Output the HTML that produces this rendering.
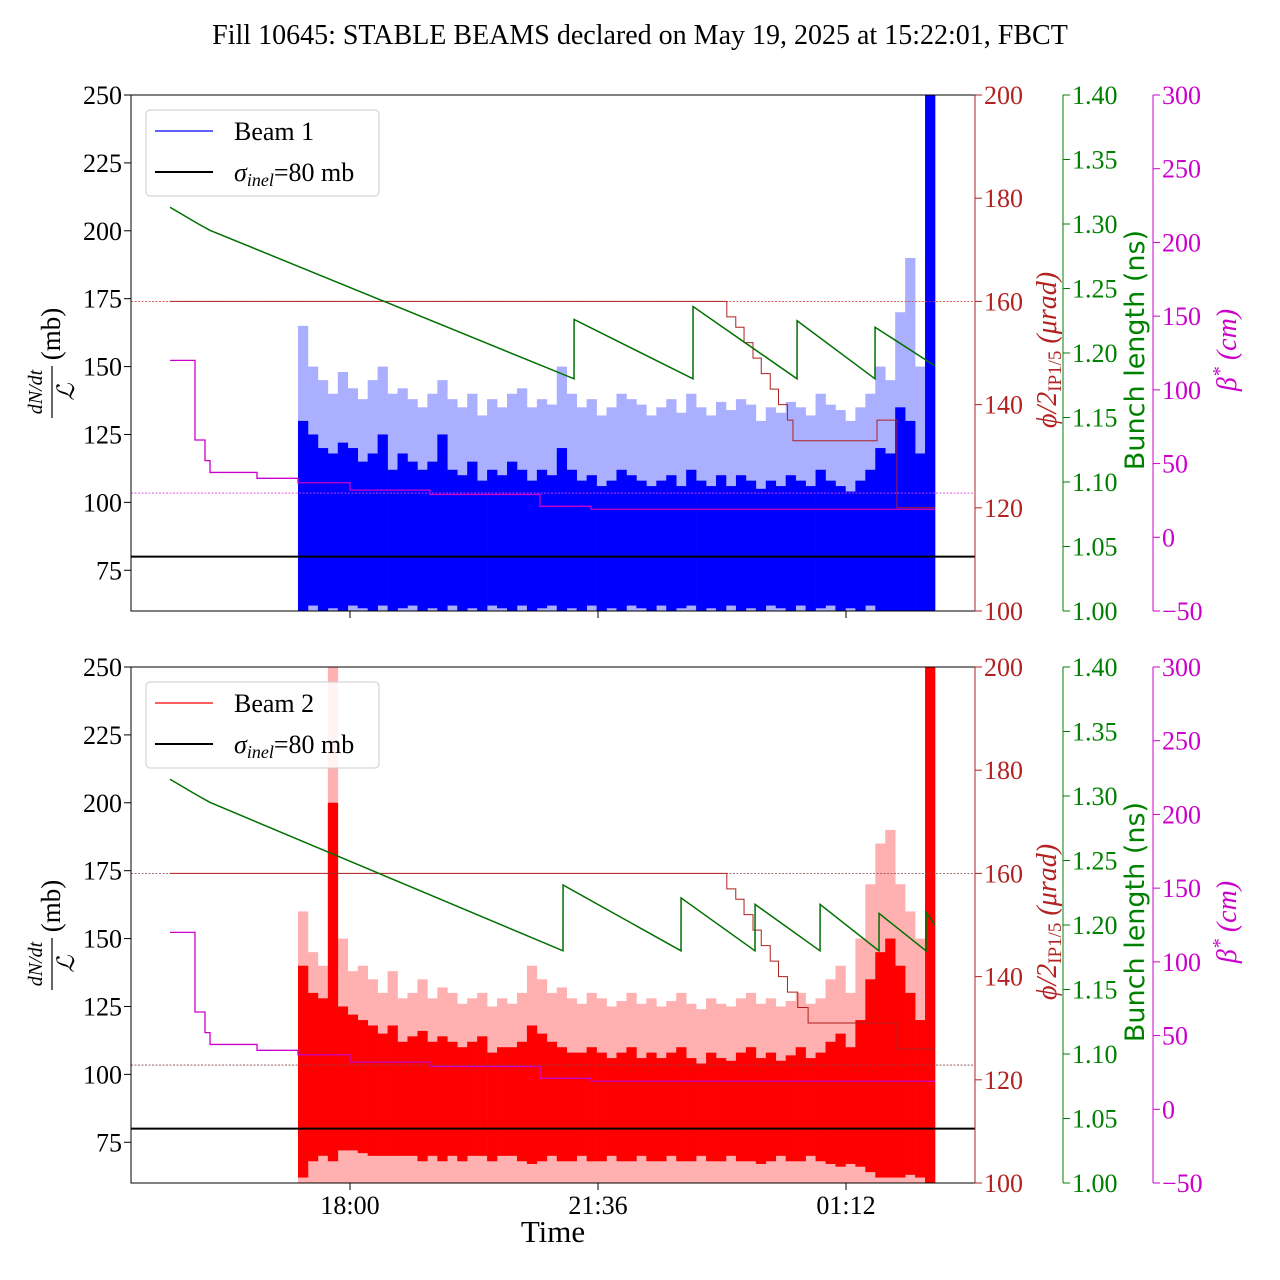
<!DOCTYPE html>
<html><head><meta charset="utf-8"><style>
html,body{margin:0;padding:0;background:#fff;}
svg{display:block;font-family:"Liberation Serif",serif;}
</style></head><body>
<svg id="chart" width="1280" height="1280" viewBox="0 0 1280 1280" xmlns="http://www.w3.org/2000/svg">
<text x="640" y="44" font-size="28" text-anchor="middle">Fill 10645: STABLE BEAMS declared on May 19, 2025 at 15:22:01, FBCT</text>
<g id="top"></g><g id="bot"></g>
<text x="553" y="1242" font-size="31" text-anchor="middle">Time</text>
</svg>
<script>
// ---- data (time in hours relative to 18:00) ----
const xTickLabels = ["18:00","21:36","01:12"];
const xTickTimes = [0, 3.6, 7.2];
const beamStart = -0.755, beamEnd = 8.492;
const b1LightHi = [165,150,145,140,148,142,138,145,150,140,142,138,135,140,145,138,135,140,132,138,135,140,142,135,138,136,150,140,135,138,132,135,140,138,136,132,135,138,133,140,135,132,137,134,138,136,130,135,133,137,135,132,140,136,134,130,135,140,150,145,170,190,150,250];
const b1DarkHi = [130,125,120,118,122,120,115,118,125,112,118,115,112,115,125,112,110,115,108,112,110,115,112,108,112,110,120,112,108,110,106,108,112,110,108,106,108,110,106,112,108,106,110,106,110,108,105,108,106,110,108,106,112,108,106,104,108,112,120,118,135,130,118,250];
const b1DarkLo = [60,62,60,61,60,62,61,60,62,60,61,62,60,61,60,62,60,61,60,62,61,60,62,60,61,62,60,61,60,62,60,61,60,62,61,60,62,60,61,62,60,61,60,62,60,61,60,62,61,60,62,60,61,62,60,61,60,62,60,60,60,60,60,60];
const b2LightHi = [160,145,140,250,150,138,140,135,130,138,128,130,135,128,132,130,126,128,130,125,128,126,130,140,135,130,132,128,126,130,128,125,127,130,126,128,125,127,130,126,124,128,126,125,128,130,126,128,125,127,130,126,128,135,140,130,150,170,185,190,170,160,150,250];
const b2DarkHi = [140,130,128,200,125,122,120,118,115,118,112,114,116,112,114,112,110,112,114,108,110,110,112,118,115,112,110,108,108,110,108,106,108,110,106,108,106,108,110,106,104,108,106,105,108,110,106,108,105,107,110,106,108,112,115,110,120,135,145,150,140,130,120,250];
const b2DarkLo = [62,68,70,68,72,72,71,70,70,70,70,70,68,70,68,70,68,70,70,68,70,70,68,67,68,70,68,68,70,68,68,70,68,68,70,68,68,70,68,68,70,68,68,70,68,68,67,68,70,68,68,70,68,67,66,67,66,64,62,62,62,63,62,60];
const bl1Times = [-2.613,-2.2,-2.03,3.252,3.253,4.979,4.98,6.489,6.49,7.621,7.622,8.492];
const bl1Vals = [1.313,1.300,1.295,1.18,1.226,1.18,1.236,1.18,1.225,1.18,1.22,1.19];
const bl2Times = [-2.613,-2.2,-2.03,3.092,3.093,4.805,4.806,5.879,5.88,6.823,6.824,7.679,7.68,8.361,8.362,8.492];
const bl2Vals = [1.313,1.300,1.295,1.18,1.231,1.18,1.221,1.18,1.216,1.18,1.216,1.18,1.209,1.18,1.21,1.20];
const phi1Times = [-2.613,5.47,5.6,5.72,5.85,5.97,6.1,6.22,6.35,6.43,7.65,7.94,8.492];
const phi1Vals = [160,157,155,152,149,146,143,140,137,133,137,120,120];
const phi2Times = [-2.613,5.47,5.6,5.72,5.85,5.97,6.1,6.22,6.35,6.5,6.65,7.65,7.94,8.492];
const phi2Vals = [160,157,155,152,149,146,143,140,137,134,131,131,126,126];
const betaTimes = [-2.613,-2.323,-2.25,-2.105,-2.032,-1.35,-0.755,0,1.16,2.758,3.5,8.492];
const betaVals = [120,120,66,52,44,40,37,32,29,21,19,19];
const leftTicks = [75,100,125,150,175,200,225,250];
const redTicks = [100,120,140,160,180,200];
const greenTicks = [1.00,1.05,1.10,1.15,1.20,1.25,1.30,1.35,1.40];
const magTicks = [-50,0,50,100,150,200,250,300];

const NS="http://www.w3.org/2000/svg";
function mk(parent,tag,attrs,text){const e=document.createElementNS(NS,tag);for(const k in attrs)e.setAttribute(k,attrs[k]);if(text!==undefined)e.textContent=text;parent.appendChild(e);return e;}
const X0=131,X1=975;
const xOf=t=>350+t*(248/3.6);
const FS=26;

function panel(g,top,beam,lightHi,darkHi,darkLo,blT,blV,phT,phV,light,dark,label){
  const bot=top+516;
  const yL=v=>bot-(v-60)*516/190;
  const yR=v=>bot-(v-100)*516/100;
  const yG=v=>bot-(v-1.0)*516/0.4;
  const yM=v=>bot-(v+50)*516/350;
  const clip=mk(g,'clipPath',{id:'clip'+beam});
  mk(clip,'rect',{x:X0,y:top,width:X1-X0,height:516});
  const plot=mk(g,'g',{'clip-path':'url(#clip'+beam+')'});
  
  
  const n=lightHi.length, dt=(beamEnd-beamStart)/n;
  for(let i=0;i<n;i++){
    const xa=xOf(beamStart+i*dt), w=xOf(beamStart+(i+1)*dt)-xa;
    const r=mk(plot,'rect',{x:xa,y:yL(lightHi[i]),width:w+0.3,height:yL(60)-yL(lightHi[i]),fill:light});
    
    
  }
  for(let i=0;i<n;i++){
    const xa=xOf(beamStart+i*dt), w=xOf(beamStart+(i+1)*dt)-xa;
    const r=mk(plot,'rect',{x:xa,y:yL(darkHi[i]),width:w+0.3,height:yL(darkLo[i])-yL(darkHi[i]),fill:dark});
    
    
  }
  mk(plot,'line',{x1:X0,x2:X1,y1:yR(160),y2:yR(160),stroke:beam==1?'#d03030':'#884444','stroke-width':0.8,'stroke-dasharray':'2,1.5'});
  mk(plot,'line',{x1:X0,x2:X1,y1:yM(30),y2:yM(30),stroke:beam==1?'#e040e0':'#884444','stroke-width':0.8,'stroke-dasharray':'2,1.5'});
  const s=mk(plot,'line',{x1:X0,x2:X1,y1:yL(80),y2:yL(80),stroke:'#000','stroke-width':2});
  
  
  function stepPath(T,V,yf){let d='M'+xOf(T[0])+','+yf(V[0]);for(let i=1;i<T.length;i++){d+=' H'+xOf(T[i])+' V'+yf(V[i]);}return d;}
  const ph=mk(plot,'path',{d:stepPath(phT,phV,yR),fill:'none',stroke:'#b02020','stroke-width':1});
  
  
  let d='';blT.forEach((t,i)=>{d+=(i?'L':'M')+xOf(t)+','+yG(blV[i]);});
  const gl=mk(plot,'path',{d:d,fill:'none',stroke:'#007000','stroke-width':1.5});
  
  
  const bm=mk(plot,'path',{d:stepPath(betaTimes,betaVals,yM),fill:'none',stroke:'#cc00cc','stroke-width':1.3});
  
  
  mk(g,'rect',{x:X0,y:top,width:X1-X0,height:516,fill:'none',stroke:'#000','stroke-width':1});
  leftTicks.forEach(v=>{const y=yL(v);mk(g,'line',{x1:X0-7,x2:X0,y1:y,y2:y,stroke:'#000'});
    const t=mk(g,'text',{x:X0-9,y:y+9,'font-size':FS,'text-anchor':'end'},String(v));
    });
  xTickTimes.forEach((tt,i)=>{const x=xOf(tt);mk(g,'line',{x1:x,x2:x,y1:bot,y2:bot+7,stroke:'#000'});
    if(beam==2){const t=mk(g,'text',{x:x,y:bot+31,'font-size':FS,'text-anchor':'middle'},xTickLabels[i]);
    }});
  function raxis(x,ticks,yf,col,fmt,name){
    mk(g,'line',{x1:x,x2:x,y1:top,y2:bot,stroke:col,'stroke-width':1});
    ticks.forEach(v=>{const y=yf(v);mk(g,'line',{x1:x,x2:x+7,y1:y,y2:y,stroke:col});
      const t=mk(g,'text',{x:x+9,y:y+9,'font-size':FS,fill:col},fmt(v));
      });
  }
  raxis(975,redTicks,yR,'#b22222',v=>String(v),'crossing-angle');
  raxis(1063,greenTicks,yG,'#008000',v=>v.toFixed(2),'bunch-length');
  raxis(1153,magTicks,yM,'#cc00cc',v=>v<0?'\u2212'+(-v):String(v),'beta-star');
  const mid=top+275;
  const la=mk(g,'g',{transform:`translate(52,${mid}) rotate(-90)`});
  
  mk(la,'text',{x:-22,y:-10,'font-size':20,'font-style':'italic','text-anchor':'middle'},'dN/dt');
  mk(la,'line',{x1:-48,x2:4,y1:0,y2:0,stroke:'#000','stroke-width':1.2});
  mk(la,'text',{x:-22,y:22,'font-size':24,'font-style':'italic','text-anchor':'middle'},'\u2112');
  mk(la,'text',{x:36,y:8,'font-size':27,'text-anchor':'middle'},'(mb)');
  const ra=mk(g,'text',{transform:`translate(1056,${mid-20}) rotate(-90)`,'font-size':28,fill:'#b22222','text-anchor':'middle'});
  
  mk(ra,'tspan',{'font-style':'italic'},'\u03d5/2');
  mk(ra,'tspan',{'font-size':19,dy:5},'IP1/5');
  mk(ra,'tspan',{dy:-5,'font-style':'italic'},' (\u03bcrad)');
  const ga=mk(g,'text',{transform:`translate(1144,${mid-20}) rotate(-90)`,'font-size':27,fill:'#008000','text-anchor':'middle','font-family':'DejaVu Sans, sans-serif'},'Bunch length (ns)');
  
  const ma=mk(g,'text',{transform:`translate(1236,${mid-20}) rotate(-90)`,'font-size':28,fill:'#cc00cc','text-anchor':'middle','font-style':'italic'});
  
  mk(ma,'tspan',{},'\u03b2');mk(ma,'tspan',{dy:-10,'font-size':20},'*');mk(ma,'tspan',{dy:10},' (cm)');
  const lg=mk(g,'g',{});
  
  mk(lg,'rect',{x:146,y:top+15,width:233,height:86,rx:4,fill:'#fff','fill-opacity':0.85,stroke:'#ccc'});
  mk(lg,'line',{x1:155,x2:213,y1:top+36,y2:top+36,stroke:dark,'stroke-width':1.3});
  const t1=mk(lg,'text',{x:234,y:top+45,'font-size':FS},label);
  
  mk(lg,'line',{x1:155,x2:213,y1:top+77,y2:top+77,stroke:'#000','stroke-width':2});
  const t2=mk(lg,'text',{x:234,y:top+86,'font-size':FS});
  
  mk(t2,'tspan',{'font-style':'italic'},'\u03c3');
  mk(t2,'tspan',{'font-style':'italic','font-size':18,dy:5},'inel');
  mk(t2,'tspan',{dy:-5},'=80 mb');
}
panel(document.getElementById('top'),95,1,b1LightHi,b1DarkHi,b1DarkLo,bl1Times,bl1Vals,phi1Times,phi1Vals,'#aab0ff','#0000ff','Beam 1');
panel(document.getElementById('bot'),667,2,b2LightHi,b2DarkHi,b2DarkLo,bl2Times,bl2Vals,phi2Times,phi2Vals,'#ffb0b0','#ff0000','Beam 2');
</script>
</body></html>
